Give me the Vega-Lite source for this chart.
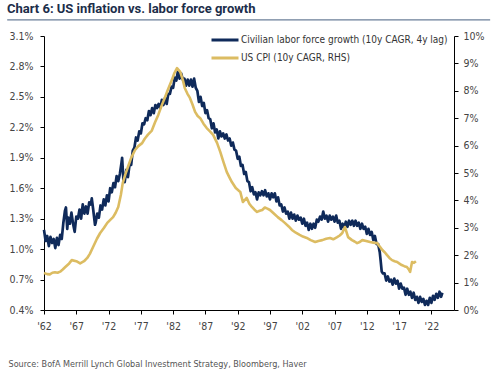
{
  "$schema": "https://vega.github.io/schema/vega-lite/v6.json",
  "width": 410,
  "height": 274,
  "autosize": {"type": "none"},
  "padding": {"left": 44, "top": 36, "right": 44, "bottom": 61},
  "background": "white",
  "title": {
    "text": "Chart 6: US inflation vs. labor force growth",
    "anchor": "start",
    "frame": "group",
    "dx": -37,
    "offset": 3,
    "fontSize": 13,
    "fontWeight": "bold",
    "color": "#1c2e4a",
    "font": "Roboto, sans-serif"
  },
  "config": {
    "font": "DejaVu Sans Condensed, sans-serif",
    "view": {"stroke": null},
    "axis": {
      "grid": false,
      "domainColor": "#000000",
      "tickColor": "#000000",
      "tickSize": 4,
      "labelFontSize": 10.5,
      "labelColor": "#444444",
      "labelOverlap": false,
      "labelFont": "DejaVu Sans Condensed, sans-serif"
    }
  },
  "datasets": {
    "lf": [
      {"t": 1962.00, "v": 1.19}, {"t": 1962.25, "v": 1.08}, {"t": 1962.50, "v": 1.13}, {"t": 1962.75, "v": 1.03},
      {"t": 1963.00, "v": 1.12}, {"t": 1963.25, "v": 1.06}, {"t": 1963.50, "v": 1.10}, {"t": 1963.75, "v": 1.01},
      {"t": 1964.00, "v": 1.11}, {"t": 1964.25, "v": 1.04}, {"t": 1964.50, "v": 1.14}, {"t": 1964.75, "v": 1.10},
      {"t": 1965.00, "v": 1.26}, {"t": 1965.25, "v": 1.38}, {"t": 1965.40, "v": 1.41}, {"t": 1965.60, "v": 1.20},
      {"t": 1965.75, "v": 1.31}, {"t": 1966.00, "v": 1.25}, {"t": 1966.25, "v": 1.36}, {"t": 1966.50, "v": 1.25},
      {"t": 1966.75, "v": 1.17}, {"t": 1967.00, "v": 1.32}, {"t": 1967.25, "v": 1.30}, {"t": 1967.50, "v": 1.39},
      {"t": 1967.75, "v": 1.30}, {"t": 1968.00, "v": 1.44}, {"t": 1968.25, "v": 1.35}, {"t": 1968.50, "v": 1.42},
      {"t": 1968.75, "v": 1.35}, {"t": 1969.00, "v": 1.46}, {"t": 1969.25, "v": 1.44}, {"t": 1969.40, "v": 1.50},
      {"t": 1969.60, "v": 1.40}, {"t": 1969.90, "v": 1.24}, {"t": 1970.00, "v": 1.26}, {"t": 1970.25, "v": 1.35},
      {"t": 1970.50, "v": 1.31}, {"t": 1970.75, "v": 1.43}, {"t": 1971.00, "v": 1.39}, {"t": 1971.25, "v": 1.49},
      {"t": 1971.50, "v": 1.43}, {"t": 1971.75, "v": 1.53}, {"t": 1972.00, "v": 1.47}, {"t": 1972.25, "v": 1.60},
      {"t": 1972.50, "v": 1.56}, {"t": 1972.75, "v": 1.65}, {"t": 1973.00, "v": 1.61}, {"t": 1973.25, "v": 1.72},
      {"t": 1973.50, "v": 1.67}, {"t": 1973.75, "v": 1.74}, {"t": 1974.00, "v": 1.85}, {"t": 1974.10, "v": 1.90},
      {"t": 1974.30, "v": 1.68}, {"t": 1974.50, "v": 1.66}, {"t": 1974.75, "v": 1.78}, {"t": 1975.00, "v": 1.71},
      {"t": 1975.25, "v": 1.83}, {"t": 1975.50, "v": 1.83}, {"t": 1975.75, "v": 1.97}, {"t": 1976.00, "v": 2.00},
      {"t": 1976.25, "v": 2.10}, {"t": 1976.50, "v": 2.07}, {"t": 1976.75, "v": 2.16}, {"t": 1977.00, "v": 2.14},
      {"t": 1977.25, "v": 2.24}, {"t": 1977.50, "v": 2.23}, {"t": 1977.75, "v": 2.29}, {"t": 1978.00, "v": 2.27},
      {"t": 1978.25, "v": 2.36}, {"t": 1978.50, "v": 2.32}, {"t": 1978.75, "v": 2.39}, {"t": 1979.00, "v": 2.34},
      {"t": 1979.25, "v": 2.42}, {"t": 1979.50, "v": 2.39}, {"t": 1979.75, "v": 2.43}, {"t": 1980.00, "v": 2.39},
      {"t": 1980.25, "v": 2.47}, {"t": 1980.50, "v": 2.42}, {"t": 1980.75, "v": 2.49}, {"t": 1981.00, "v": 2.43},
      {"t": 1981.25, "v": 2.53}, {"t": 1981.50, "v": 2.53}, {"t": 1981.75, "v": 2.60}, {"t": 1982.00, "v": 2.59},
      {"t": 1982.25, "v": 2.69}, {"t": 1982.50, "v": 2.66}, {"t": 1982.75, "v": 2.76}, {"t": 1983.00, "v": 2.68},
      {"t": 1983.25, "v": 2.73}, {"t": 1983.50, "v": 2.67}, {"t": 1983.75, "v": 2.68}, {"t": 1984.00, "v": 2.61},
      {"t": 1984.25, "v": 2.67}, {"t": 1984.50, "v": 2.61}, {"t": 1984.75, "v": 2.67}, {"t": 1985.00, "v": 2.60},
      {"t": 1985.25, "v": 2.68}, {"t": 1985.50, "v": 2.59}, {"t": 1985.75, "v": 2.56}, {"t": 1986.00, "v": 2.45},
      {"t": 1986.25, "v": 2.50}, {"t": 1986.50, "v": 2.41}, {"t": 1986.75, "v": 2.44}, {"t": 1987.00, "v": 2.34},
      {"t": 1987.25, "v": 2.37}, {"t": 1987.50, "v": 2.29}, {"t": 1987.75, "v": 2.28}, {"t": 1988.00, "v": 2.19},
      {"t": 1988.25, "v": 2.24}, {"t": 1988.50, "v": 2.15}, {"t": 1988.75, "v": 2.18}, {"t": 1989.00, "v": 2.09},
      {"t": 1989.25, "v": 2.16}, {"t": 1989.50, "v": 2.11}, {"t": 1989.75, "v": 2.14}, {"t": 1990.00, "v": 2.09},
      {"t": 1990.25, "v": 2.13}, {"t": 1990.50, "v": 2.07}, {"t": 1990.75, "v": 2.09}, {"t": 1991.00, "v": 2.02},
      {"t": 1991.25, "v": 2.05}, {"t": 1991.50, "v": 1.98}, {"t": 1991.75, "v": 1.97}, {"t": 1992.00, "v": 1.89},
      {"t": 1992.25, "v": 1.91}, {"t": 1992.50, "v": 1.82}, {"t": 1992.75, "v": 1.83}, {"t": 1993.00, "v": 1.74},
      {"t": 1993.25, "v": 1.76}, {"t": 1993.50, "v": 1.67}, {"t": 1993.75, "v": 1.66}, {"t": 1994.00, "v": 1.57},
      {"t": 1994.25, "v": 1.61}, {"t": 1994.50, "v": 1.54}, {"t": 1994.75, "v": 1.56}, {"t": 1995.00, "v": 1.49},
      {"t": 1995.25, "v": 1.56}, {"t": 1995.50, "v": 1.53}, {"t": 1995.75, "v": 1.57}, {"t": 1996.00, "v": 1.53},
      {"t": 1996.25, "v": 1.58}, {"t": 1996.50, "v": 1.52}, {"t": 1996.75, "v": 1.55}, {"t": 1997.00, "v": 1.49},
      {"t": 1997.25, "v": 1.55}, {"t": 1997.50, "v": 1.51}, {"t": 1997.75, "v": 1.55}, {"t": 1998.00, "v": 1.47},
      {"t": 1998.25, "v": 1.51}, {"t": 1998.50, "v": 1.43}, {"t": 1998.75, "v": 1.44}, {"t": 1999.00, "v": 1.37},
      {"t": 1999.25, "v": 1.41}, {"t": 1999.50, "v": 1.35}, {"t": 1999.75, "v": 1.37}, {"t": 2000.00, "v": 1.30},
      {"t": 2000.25, "v": 1.36}, {"t": 2000.50, "v": 1.30}, {"t": 2000.75, "v": 1.34}, {"t": 2001.00, "v": 1.28},
      {"t": 2001.25, "v": 1.33}, {"t": 2001.50, "v": 1.29}, {"t": 2001.75, "v": 1.31}, {"t": 2002.00, "v": 1.25},
      {"t": 2002.25, "v": 1.30}, {"t": 2002.50, "v": 1.23}, {"t": 2002.75, "v": 1.26}, {"t": 2003.00, "v": 1.19},
      {"t": 2003.25, "v": 1.25}, {"t": 2003.50, "v": 1.20}, {"t": 2003.75, "v": 1.25}, {"t": 2004.00, "v": 1.21},
      {"t": 2004.25, "v": 1.29}, {"t": 2004.50, "v": 1.27}, {"t": 2004.75, "v": 1.32}, {"t": 2005.00, "v": 1.29},
      {"t": 2005.25, "v": 1.37}, {"t": 2005.50, "v": 1.30}, {"t": 2005.75, "v": 1.33}, {"t": 2006.00, "v": 1.27},
      {"t": 2006.25, "v": 1.33}, {"t": 2006.50, "v": 1.29}, {"t": 2006.75, "v": 1.32}, {"t": 2007.00, "v": 1.27},
      {"t": 2007.25, "v": 1.33}, {"t": 2007.50, "v": 1.26}, {"t": 2007.75, "v": 1.28}, {"t": 2008.00, "v": 1.20},
      {"t": 2008.25, "v": 1.25}, {"t": 2008.50, "v": 1.21}, {"t": 2008.75, "v": 1.27}, {"t": 2009.00, "v": 1.22},
      {"t": 2009.25, "v": 1.28}, {"t": 2009.50, "v": 1.24}, {"t": 2009.75, "v": 1.28}, {"t": 2010.00, "v": 1.23},
      {"t": 2010.25, "v": 1.28}, {"t": 2010.50, "v": 1.23}, {"t": 2010.75, "v": 1.26}, {"t": 2011.00, "v": 1.20},
      {"t": 2011.25, "v": 1.25}, {"t": 2011.50, "v": 1.20}, {"t": 2011.75, "v": 1.22}, {"t": 2012.00, "v": 1.15},
      {"t": 2012.25, "v": 1.20}, {"t": 2012.50, "v": 1.14}, {"t": 2012.75, "v": 1.17}, {"t": 2013.00, "v": 1.09},
      {"t": 2013.25, "v": 1.13}, {"t": 2013.50, "v": 1.05}, {"t": 2013.75, "v": 1.05}, {"t": 2014.00, "v": 0.97},
      {"t": 2014.15, "v": 0.88}, {"t": 2014.30, "v": 0.78}, {"t": 2014.50, "v": 0.76}, {"t": 2014.75, "v": 0.76},
      {"t": 2015.00, "v": 0.69}, {"t": 2015.25, "v": 0.73}, {"t": 2015.50, "v": 0.68}, {"t": 2015.75, "v": 0.70},
      {"t": 2016.00, "v": 0.65}, {"t": 2016.25, "v": 0.71}, {"t": 2016.50, "v": 0.66}, {"t": 2016.75, "v": 0.69},
      {"t": 2017.00, "v": 0.61}, {"t": 2017.25, "v": 0.66}, {"t": 2017.50, "v": 0.61}, {"t": 2017.75, "v": 0.62},
      {"t": 2018.00, "v": 0.55}, {"t": 2018.25, "v": 0.61}, {"t": 2018.50, "v": 0.55}, {"t": 2018.75, "v": 0.58},
      {"t": 2019.00, "v": 0.52}, {"t": 2019.25, "v": 0.57}, {"t": 2019.50, "v": 0.50}, {"t": 2019.75, "v": 0.53},
      {"t": 2020.00, "v": 0.47}, {"t": 2020.25, "v": 0.53}, {"t": 2020.50, "v": 0.48}, {"t": 2020.75, "v": 0.51},
      {"t": 2021.00, "v": 0.45}, {"t": 2021.25, "v": 0.49}, {"t": 2021.50, "v": 0.45}, {"t": 2021.75, "v": 0.52},
      {"t": 2022.00, "v": 0.47}, {"t": 2022.25, "v": 0.54}, {"t": 2022.50, "v": 0.50}, {"t": 2022.75, "v": 0.56},
      {"t": 2023.00, "v": 0.52}, {"t": 2023.25, "v": 0.58}, {"t": 2023.50, "v": 0.53}, {"t": 2023.70, "v": 0.57}
    ],
    "cpi": [
      {"t": 1962.0, "v": 1.35}, {"t": 1962.5, "v": 1.31}, {"t": 1962.9, "v": 1.30}, {"t": 1963.3, "v": 1.36},
      {"t": 1963.7, "v": 1.38}, {"t": 1964.1, "v": 1.36}, {"t": 1964.5, "v": 1.40}, {"t": 1964.9, "v": 1.48},
      {"t": 1965.3, "v": 1.57}, {"t": 1965.9, "v": 1.70}, {"t": 1966.3, "v": 1.82}, {"t": 1967.0, "v": 1.78},
      {"t": 1967.6, "v": 1.70}, {"t": 1968.2, "v": 1.78}, {"t": 1968.7, "v": 1.90}, {"t": 1969.1, "v": 2.05},
      {"t": 1969.6, "v": 2.30}, {"t": 1970.2, "v": 2.60}, {"t": 1970.7, "v": 2.81}, {"t": 1971.3, "v": 3.00},
      {"t": 1971.8, "v": 3.18}, {"t": 1972.3, "v": 3.30}, {"t": 1972.7, "v": 3.39}, {"t": 1973.1, "v": 3.55},
      {"t": 1973.5, "v": 3.76}, {"t": 1973.9, "v": 4.20}, {"t": 1974.2, "v": 4.64}, {"t": 1974.6, "v": 4.95},
      {"t": 1975.0, "v": 5.22}, {"t": 1975.5, "v": 5.55}, {"t": 1976.1, "v": 5.84}, {"t": 1976.6, "v": 5.98},
      {"t": 1977.2, "v": 6.09}, {"t": 1977.6, "v": 6.25}, {"t": 1978.1, "v": 6.40}, {"t": 1978.7, "v": 6.55},
      {"t": 1979.2, "v": 6.85}, {"t": 1979.7, "v": 7.12}, {"t": 1980.2, "v": 7.45}, {"t": 1980.7, "v": 7.74},
      {"t": 1981.2, "v": 8.05}, {"t": 1981.8, "v": 8.39}, {"t": 1982.2, "v": 8.65}, {"t": 1982.6, "v": 8.83},
      {"t": 1983.1, "v": 8.69}, {"t": 1983.5, "v": 8.40}, {"t": 1983.8, "v": 8.10}, {"t": 1984.2, "v": 7.90},
      {"t": 1984.6, "v": 7.74}, {"t": 1985.0, "v": 7.50}, {"t": 1985.4, "v": 7.23}, {"t": 1985.8, "v": 7.08},
      {"t": 1986.2, "v": 7.00}, {"t": 1986.7, "v": 6.80}, {"t": 1987.2, "v": 6.64}, {"t": 1987.7, "v": 6.52},
      {"t": 1988.2, "v": 6.39}, {"t": 1988.8, "v": 6.10}, {"t": 1989.3, "v": 5.77}, {"t": 1989.8, "v": 5.40},
      {"t": 1990.3, "v": 5.04}, {"t": 1990.7, "v": 4.85}, {"t": 1991.1, "v": 4.67}, {"t": 1991.7, "v": 4.45},
      {"t": 1992.4, "v": 4.31}, {"t": 1992.8, "v": 3.94}, {"t": 1993.4, "v": 4.09}, {"t": 1993.8, "v": 3.88},
      {"t": 1994.2, "v": 3.76}, {"t": 1994.6, "v": 3.66}, {"t": 1995.0, "v": 3.58}, {"t": 1995.4, "v": 3.62},
      {"t": 1995.8, "v": 3.65}, {"t": 1996.2, "v": 3.74}, {"t": 1996.6, "v": 3.70}, {"t": 1997.0, "v": 3.65},
      {"t": 1997.6, "v": 3.52}, {"t": 1998.2, "v": 3.39}, {"t": 1998.8, "v": 3.28}, {"t": 1999.3, "v": 3.18},
      {"t": 1999.9, "v": 3.05}, {"t": 2000.4, "v": 2.92}, {"t": 2001.0, "v": 2.82}, {"t": 2001.6, "v": 2.74},
      {"t": 2002.1, "v": 2.68}, {"t": 2002.7, "v": 2.63}, {"t": 2003.3, "v": 2.55}, {"t": 2004.0, "v": 2.48},
      {"t": 2004.5, "v": 2.52}, {"t": 2005.1, "v": 2.55}, {"t": 2005.7, "v": 2.60}, {"t": 2006.3, "v": 2.63},
      {"t": 2006.8, "v": 2.58}, {"t": 2007.4, "v": 2.66}, {"t": 2007.8, "v": 2.72}, {"t": 2008.2, "v": 2.81},
      {"t": 2008.6, "v": 3.03}, {"t": 2009.1, "v": 2.66}, {"t": 2009.7, "v": 2.55}, {"t": 2010.1, "v": 2.50},
      {"t": 2010.5, "v": 2.44}, {"t": 2010.9, "v": 2.48}, {"t": 2011.3, "v": 2.55}, {"t": 2011.9, "v": 2.52},
      {"t": 2012.5, "v": 2.48}, {"t": 2013.0, "v": 2.46}, {"t": 2013.6, "v": 2.44}, {"t": 2014.0, "v": 2.32},
      {"t": 2014.4, "v": 2.19}, {"t": 2014.8, "v": 2.10}, {"t": 2015.1, "v": 2.01}, {"t": 2015.5, "v": 1.90},
      {"t": 2015.9, "v": 1.82}, {"t": 2016.3, "v": 1.78}, {"t": 2016.7, "v": 1.75}, {"t": 2017.0, "v": 1.70},
      {"t": 2017.4, "v": 1.64}, {"t": 2017.8, "v": 1.60}, {"t": 2018.2, "v": 1.57}, {"t": 2018.5, "v": 1.48},
      {"t": 2018.7, "v": 1.39}, {"t": 2019.0, "v": 1.75}, {"t": 2019.3, "v": 1.72}, {"t": 2019.6, "v": 1.78}
    ]
  },
  "layer": [
    {
      "data": {"name": "lf"},
      "mark": {"type": "line", "strokeWidth": 2.7, "strokeJoin": "round"},
      "encoding": {
        "x": {
          "field": "t", "type": "quantitative",
          "scale": {"domain": [1962, 2025.5], "nice": false, "zero": false},
          "axis": {
            "values": [1962, 1967, 1972, 1977, 1982, 1987, 1992, 1997, 2002, 2007, 2012, 2017, 2022],
            "labelExpr": "\"'\" + slice(format(datum.value, 'd'), 2)",
            "labelPadding": 7,
            "labelFlush": false,
            "labelOverlap": false,
            "title": "Source:  BofA Merrill Lynch Global Investment Strategy, Bloomberg, Haver",
            "titleX": -36,
            "titleY": 53,
            "titleAlign": "left",
            "titleAnchor": "start",
            "titleBaseline": "middle",
            "titleFontSize": 9,
            "titleFontWeight": "normal",
            "titleColor": "#555555"
          }
        },
        "y": {
          "field": "v", "type": "quantitative",
          "scale": {"domain": [0.4, 3.1], "nice": false, "zero": false},
          "axis": {
            "orient": "left",
            "values": [0.4, 0.7, 1.0, 1.3, 1.6, 1.9, 2.2, 2.5, 2.8, 3.1],
            "labelExpr": "format(datum.value, '.1f') + '%'",
            "labelPadding": 7,
            "labelFlush": false,
            "title": null
          }
        },
        "color": {
          "datum": "Civilian labor force growth (10y CAGR, 4y lag)",
          "type": "nominal",
          "scale": {
            "domain": ["Civilian labor force growth (10y CAGR, 4y lag)", "US CPI (10y CAGR, RHS)"],
            "range": ["#0f2a5a", "#dcbc62"]
          },
          "legend": {
            "orient": "none",
            "legendX": 166,
            "legendY": -3,
            "title": null,
            "symbolType": "stroke",
            "symbolSize": 729,
            "symbolStrokeWidth": 3,
            "clipHeight": 14,
            "rowPadding": 4,
            "labelOffset": 1,
            "labelFontSize": 10,
            "labelColor": "#333333",
            "labelLimit": 300,
            "padding": 0
          }
        }
      }
    },
    {
      "data": {"name": "cpi"},
      "mark": {"type": "line", "strokeWidth": 2.6, "strokeJoin": "round"},
      "encoding": {
        "x": {
          "field": "t", "type": "quantitative",
          "axis": {
            "values": [1962, 1967, 1972, 1977, 1982, 1987, 1992, 1997, 2002, 2007, 2012, 2017, 2022],
            "labelExpr": "\"'\" + slice(format(datum.value, 'd'), 2)",
            "labelOverlap": false
          }
        },
        "y": {
          "field": "v", "type": "quantitative",
          "scale": {"domain": [0, 10], "nice": false, "zero": false},
          "axis": {
            "orient": "right",
            "values": [0, 1, 2, 3, 4, 5, 6, 7, 8, 9, 10],
            "labelExpr": "datum.value + '%'",
            "labelPadding": 5,
            "labelFlush": false,
            "title": null
          }
        },
        "color": {"datum": "US CPI (10y CAGR, RHS)", "type": "nominal"}
      }
    },
    {
      "data": {"values": [{}]},
      "mark": {"type": "rule", "color": "#6b7f99", "strokeWidth": 1.3, "clip": false},
      "encoding": {
        "x": {
          "datum": 1956.3, "type": "quantitative",
          "axis": {
            "values": [1962, 1967, 1972, 1977, 1982, 1987, 1992, 1997, 2002, 2007, 2012, 2017, 2022],
            "labelExpr": "\"'\" + slice(format(datum.value, 'd'), 2)",
            "labelOverlap": false
          }
        },
        "x2": {"datum": 2031.1},
        "y": {
          "datum": 3.258, "type": "quantitative",
          "scale": {"domain": [0.4, 3.1], "nice": false, "zero": false},
          "axis": null
        }
      }
    }
  ],
  "resolve": {"scale": {"y": "independent"}}
}
